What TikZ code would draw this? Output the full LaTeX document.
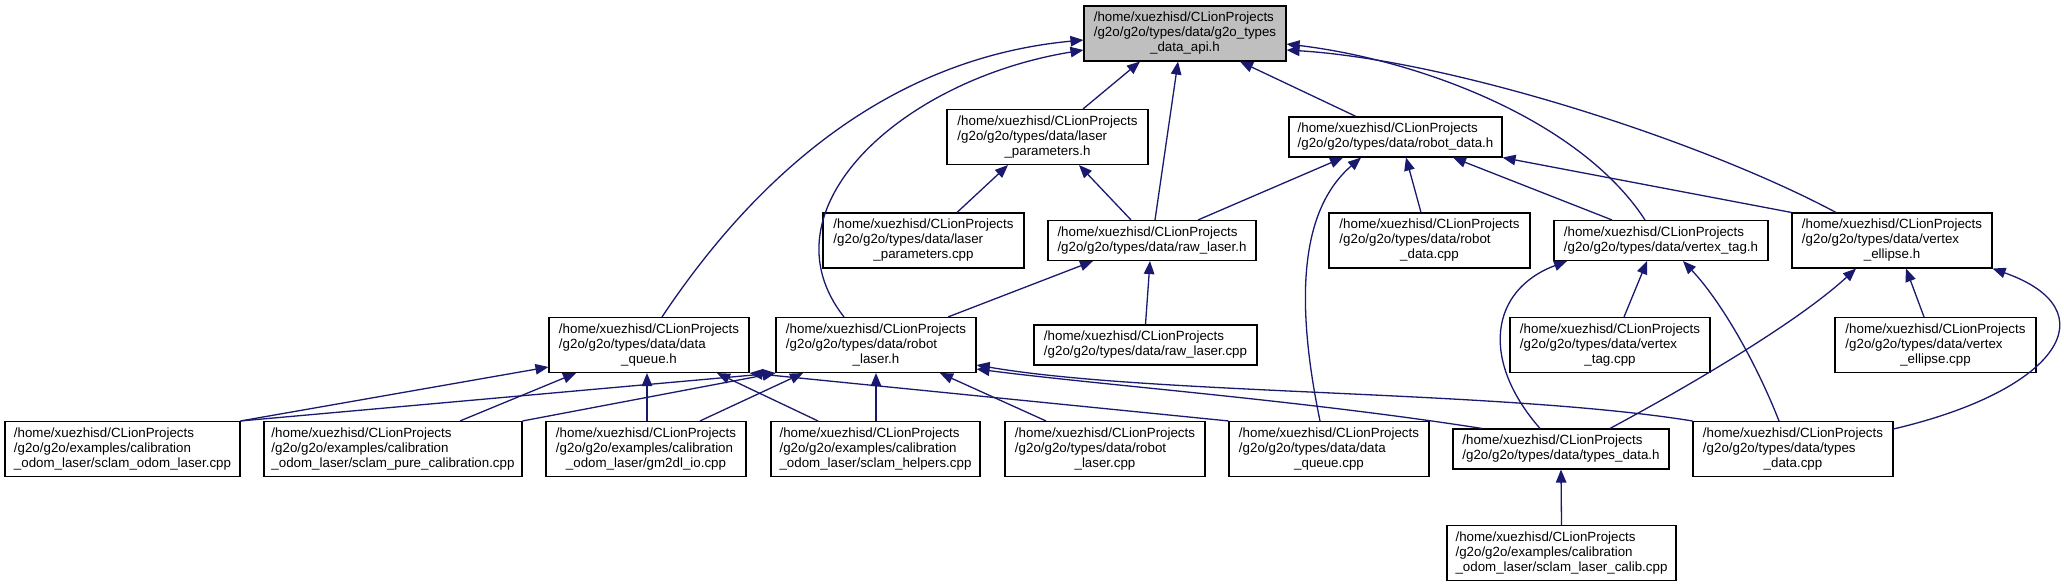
\documentclass[tikz,border=0pt]{standalone}
\usepackage{fontspec}
\setmainfont{Liberation Sans}
\usetikzlibrary{arrows.meta}
\definecolor{grey75}{gray}{0.75}
\definecolor{midnight}{RGB}{25,25,112}
\newcommand\homepath{/home/xuezhisd/CLionProjects}
\newcommand\filetri[3]{\begin{tabular}{@{}l@{}}#1\\#2\\\multicolumn{1}{@{}c@{}}{#3}\end{tabular}}
\newcommand\fileduo[2]{\begin{tabular}{@{}l@{}}#1\\\multicolumn{1}{@{}c@{}}{#2}\end{tabular}}
\tikzset{
  file/.style={draw=black, line width=1.1pt, fill=white, inner sep=0pt, minimum height=55pt,
    font=\fontsize{13.33}{15}\selectfont},
  twoline/.style={minimum height=40pt},
  mainfile/.style={fill=grey75},
  edge/.style={draw=midnight, line width=1.3pt, -{Triangle[length=13pt,width=10.5pt]}, line join=round}
}
\begin{document}
\begin{tikzpicture}[x=1pt,y=-1pt]
\fill[white] (0,0) rectangle (2064,587);
\useasboundingbox (0,0) rectangle (2064,587);
% row 0
\node[file,mainfile,minimum width=202pt] (api) at (1185,33.5) {\filetri{\homepath}{/g2o/g2o/types/data/g2o\_types}{\_data\_api.h}};
% row 1
\node[file,minimum width=201pt] (lph) at (1047.5,137) {\filetri{\homepath}{/g2o/g2o/types/data/laser}{\_parameters.h}};
\node[file,twoline,minimum width=213pt] (rdh) at (1395.5,137) {\fileduo{\homepath}{/g2o/g2o/types/data/robot\_data.h}};
% row 2
\node[file,minimum width=201pt] (lpc) at (923.5,240.5) {\filetri{\homepath}{/g2o/g2o/types/data/laser}{\_parameters.cpp}};
\node[file,twoline,minimum width=208pt] (rlh) at (1152,240.5) {\fileduo{\homepath}{/g2o/g2o/types/data/raw\_laser.h}};
\node[file,minimum width=201pt] (rdc) at (1429.5,240.5) {\filetri{\homepath}{/g2o/g2o/types/data/robot}{\_data.cpp}};
\node[file,twoline,minimum width=214pt] (vth) at (1661,240.5) {\fileduo{\homepath}{/g2o/g2o/types/data/vertex\_tag.h}};
\node[file,minimum width=200pt] (veh) at (1892,240.5) {\filetri{\homepath}{/g2o/g2o/types/data/vertex}{\_ellipse.h}};
% row 3
\node[file,minimum width=200pt] (dqh) at (649,345) {\filetri{\homepath}{/g2o/g2o/types/data/data}{\_queue.h}};
\node[file,minimum width=200pt] (rbh) at (876,345) {\filetri{\homepath}{/g2o/g2o/types/data/robot}{\_laser.h}};
\node[file,twoline,minimum width=223pt] (rlc) at (1145.5,345) {\fileduo{\homepath}{/g2o/g2o/types/data/raw\_laser.cpp}};
\node[file,minimum width=200pt] (vtc) at (1610,345) {\filetri{\homepath}{/g2o/g2o/types/data/vertex}{\_tag.cpp}};
\node[file,minimum width=201pt] (vec) at (1935.5,345) {\filetri{\homepath}{/g2o/g2o/types/data/vertex}{\_ellipse.cpp}};
% row 4
\node[file,minimum width=235pt] (sol) at (122.5,449) {\filetri{\homepath}{/g2o/g2o/examples/calibration}{\_odom\_laser/sclam\_odom\_laser.cpp}};
\node[file,minimum width=258pt] (spc) at (393,449) {\filetri{\homepath}{/g2o/g2o/examples/calibration}{\_odom\_laser/sclam\_pure\_calibration.cpp}};
\node[file,minimum width=200pt] (gm2) at (646,449) {\filetri{\homepath}{/g2o/g2o/examples/calibration}{\_odom\_laser/gm2dl\_io.cpp}};
\node[file,minimum width=209pt] (shc) at (875.5,449) {\filetri{\homepath}{/g2o/g2o/examples/calibration}{\_odom\_laser/sclam\_helpers.cpp}};
\node[file,minimum width=200pt] (rbc) at (1105,449) {\filetri{\homepath}{/g2o/g2o/types/data/robot}{\_laser.cpp}};
\node[file,minimum width=200pt] (dqc) at (1329,449) {\filetri{\homepath}{/g2o/g2o/types/data/data}{\_queue.cpp}};
\node[file,twoline,minimum width=216pt] (tdh) at (1561,449) {\fileduo{\homepath}{/g2o/g2o/types/data/types\_data.h}};
\node[file,minimum width=200pt] (tdc) at (1793,449) {\filetri{\homepath}{/g2o/g2o/types/data/types}{\_data.cpp}};
% row 5
\node[file,minimum width=229pt] (slc) at (1561.5,553) {\filetri{\homepath}{/g2o/g2o/examples/calibration}{\_odom\_laser/sclam\_laser\_calib.cpp}};
% edges into api
\draw[edge] ([xshift=13pt]dqh.north) .. controls (740,200) and (870,60) .. ([yshift=-6.5pt]api.west);
\draw[edge] ([xshift=-32pt]rbh.north) .. controls (760,210) and (900,80) .. ([yshift=-16.5pt]api.west);
\draw[edge] ([xshift=35.5pt]lph.north) -- ([xshift=-45pt]api.south);
\draw[edge] ([xshift=3pt]rlh.north) -- ([xshift=-7pt]api.south);
\draw[edge] ([xshift=-39.5pt]rdh.north) -- ([xshift=55pt]api.south);
\draw[edge] ([xshift=-16pt]vth.north) .. controls (1580,120) and (1420,60) .. ([yshift=-10.5pt]api.east);
\draw[edge] ([xshift=-56pt]veh.north) .. controls (1700,140) and (1450,60) .. ([yshift=-16.5pt]api.east);
% edges into laser_parameters.h
\draw[edge] ([xshift=33.5pt]lpc.north) -- ([xshift=-39.5pt]lph.south);
\draw[edge] ([xshift=-21pt]rlh.north) -- ([xshift=31.5pt]lph.south);
% edges into robot_data.h
\draw[edge] ([xshift=46pt]rlh.north) -- ([xshift=-52.5pt]rdh.south);
\draw[edge] ([xshift=-9pt]dqc.north) .. controls (1295,300) and (1300,210) .. ([xshift=-34.5pt]rdh.south);
\draw[edge] ([xshift=-8.5pt]rdc.north) -- ([xshift=10.5pt]rdh.south);
\draw[edge] ([xshift=-49pt]vth.north) -- ([xshift=57.5pt]rdh.south);
\draw[edge] (veh.north west) -- (rdh.south east);
% edges into raw_laser.h
\draw[edge] ([xshift=72pt]rbh.north) -- ([xshift=-59pt]rlh.south);
\draw[edge] (rlc.north) -- ([xshift=-2pt]rlh.south);
% edges into vertex_tag.h
\draw[edge] ([xshift=14pt]vtc.north) -- ([xshift=-14pt]vth.south);
\draw[edge] ([xshift=-21pt]tdh.north) .. controls (1480,360) and (1490,290) .. ([xshift=-94pt]vth.south);
\draw[edge] ([xshift=-14pt]tdc.north) .. controls (1755,360) and (1720,300) .. ([xshift=22pt]vth.south);
% edges into vertex_ellipse.h
\draw[edge] ([xshift=49pt]tdh.north) .. controls (1700,380) and (1800,320) .. ([xshift=-36pt]veh.south);
\draw[edge] ([xshift=-11.5pt]vec.north) -- ([xshift=14pt]veh.south);
\draw[edge] ([yshift=-8pt]tdc.north east) .. controls (2060,390) and (2110,310) .. (veh.south east);
% edges into data_queue.h
\draw[edge] (sol.north east) -- ([yshift=-22pt]dqh.west);
\draw[edge] ([xshift=67pt]spc.north) -- ([xshift=-73pt]dqh.south);
\draw[edge] ([xshift=1pt]gm2.north) -- ([xshift=-2pt]dqh.south);
\draw[edge] ([xshift=-57.5pt]shc.north) -- ([xshift=68pt]dqh.south);
\draw[edge] (dqc.north west) -- (dqh.south east);
% edges into robot_laser.h
\draw[edge] (sol.north east) -- (rbh.south west);
\draw[edge] (spc.north east) -- (rbh.south west);
\draw[edge] ([xshift=54pt]gm2.north) -- ([xshift=-73pt]rbh.south);
\draw[edge] ([xshift=0.5pt]shc.north) -- (rbh.south);
\draw[edge] ([xshift=-59pt]rbc.north) -- ([xshift=64pt]rbh.south);
\draw[edge] (tdc.north west) .. controls (1500,390) and (1150,395) .. ([yshift=-20pt]rbh.east);
\draw[edge] ([xshift=-79pt]tdh.north) .. controls (1300,400) and (1100,385) .. ([yshift=-24pt]rbh.east);
% edge into types_data.h
\draw[edge] (slc.north) -- (tdh.south);
\end{tikzpicture}
\end{document}
